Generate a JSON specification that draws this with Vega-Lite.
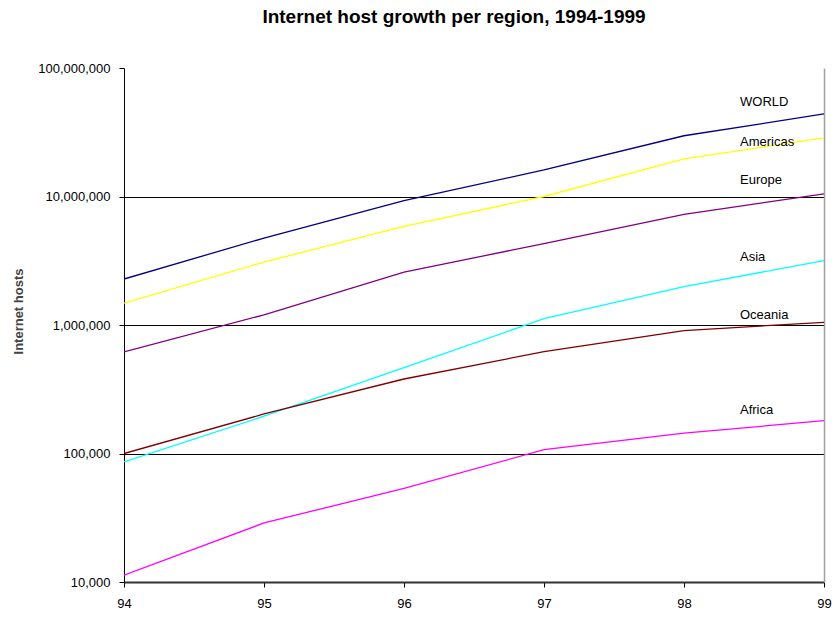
{
  "$schema": "https://vega.github.io/schema/vega-lite/v6.json",
  "width": 700,
  "height": 514,
  "autosize": {"type": "none"},
  "padding": {"left": 124, "top": 68, "right": 11, "bottom": 35},
  "background": "white",
  "config": {
    "view": {"stroke": null},
    "font": "Liberation Sans"
  },
  "title": {
    "text": "Internet host growth per region, 1994-1999",
    "font": "Liberation Sans",
    "fontSize": 19,
    "fontWeight": "bold",
    "color": "#000000",
    "anchor": "middle",
    "dx": -20,
    "offset": 35
  },
  "datasets": {
    "hosts": [
      {"region": "WORLD", "year": 94, "hosts": 2280000},
      {"region": "WORLD", "year": 95, "hosts": 4750000},
      {"region": "WORLD", "year": 96, "hosts": 9300000},
      {"region": "WORLD", "year": 97, "hosts": 16100000},
      {"region": "WORLD", "year": 98, "hosts": 29700000},
      {"region": "WORLD", "year": 99, "hosts": 43900000},
      {"region": "Americas", "year": 94, "hosts": 1480000},
      {"region": "Americas", "year": 95, "hosts": 3090000},
      {"region": "Americas", "year": 96, "hosts": 5850000},
      {"region": "Americas", "year": 97, "hosts": 10000000},
      {"region": "Americas", "year": 98, "hosts": 19600000},
      {"region": "Americas", "year": 99, "hosts": 28600000},
      {"region": "Europe", "year": 94, "hosts": 617000},
      {"region": "Europe", "year": 95, "hosts": 1200000},
      {"region": "Europe", "year": 96, "hosts": 2580000},
      {"region": "Europe", "year": 97, "hosts": 4300000},
      {"region": "Europe", "year": 98, "hosts": 7250000},
      {"region": "Europe", "year": 99, "hosts": 10500000},
      {"region": "Asia", "year": 94, "hosts": 86000},
      {"region": "Asia", "year": 95, "hosts": 195000},
      {"region": "Asia", "year": 96, "hosts": 465000},
      {"region": "Asia", "year": 97, "hosts": 1120000},
      {"region": "Asia", "year": 98, "hosts": 1990000},
      {"region": "Asia", "year": 99, "hosts": 3170000},
      {"region": "Oceania", "year": 94, "hosts": 100000},
      {"region": "Oceania", "year": 95, "hosts": 203000},
      {"region": "Oceania", "year": 96, "hosts": 380000},
      {"region": "Oceania", "year": 97, "hosts": 620000},
      {"region": "Oceania", "year": 98, "hosts": 905000},
      {"region": "Oceania", "year": 99, "hosts": 1050000},
      {"region": "Africa", "year": 94, "hosts": 11300},
      {"region": "Africa", "year": 95, "hosts": 28800},
      {"region": "Africa", "year": 96, "hosts": 53500},
      {"region": "Africa", "year": 97, "hosts": 107000},
      {"region": "Africa", "year": 98, "hosts": 144000},
      {"region": "Africa", "year": 99, "hosts": 180000}
    ],
    "labels": [
      {"region": "WORLD", "year": 98.4, "hosts": 54000000},
      {"region": "Americas", "year": 98.4, "hosts": 26500000},
      {"region": "Europe", "year": 98.4, "hosts": 13400000},
      {"region": "Asia", "year": 98.4, "hosts": 3380000},
      {"region": "Oceania", "year": 98.4, "hosts": 1200000},
      {"region": "Africa", "year": 98.4, "hosts": 218000}
    ]
  },
  "resolve": {"axis": {"y": "independent"}},
  "layer": [
    {
      "data": {"name": "hosts"},
      "mark": {"type": "line", "strokeWidth": 1.3, "clip": true},
      "encoding": {
        "x": {
          "field": "year",
          "type": "quantitative",
          "scale": {"domain": [94, 99], "nice": false, "zero": false},
          "axis": {
            "title": null,
            "values": [94, 95, 96, 97, 98, 99],
            "format": "d",
            "grid": false,
            "labelFlush": false,
            "labelOverlap": false,
            "domainColor": "#333333",
            "domainWidth": 2,
            "tickColor": "#000000",
            "tickSize": 5,
            "labelPadding": 10,
            "labelFont": "Liberation Sans",
            "labelFontSize": 13,
            "labelColor": "#000000"
          }
        },
        "y": {
          "field": "hosts",
          "type": "quantitative",
          "scale": {"type": "log", "domain": [10000, 100000000], "nice": false},
          "axis": {
            "title": "Internet hosts",
            "titleFont": "Liberation Sans",
            "titleFontSize": 13,
            "titleFontWeight": "bold",
            "titleColor": "#444444",
            "titleX": -106,
            "titleY": 243,
            "titleAngle": -90,
            "titleAlign": "center",
            "titleBaseline": "middle",
            "values": [10000, 100000, 1000000, 10000000, 100000000],
            "format": ",d",
            "grid": true,
            "gridColor": {"condition": {"test": "datum.value >= 100000000 || datum.value <= 10000", "value": "transparent"}, "value": "#000000"},
            "gridWidth": 1,
            "labelFlush": false,
            "labelOverlap": false,
            "domainColor": "#000000",
            "tickColor": "#000000",
            "tickSize": 5,
            "labelPadding": 9,
            "labelFont": "Liberation Sans",
            "labelFontSize": 13,
            "labelColor": "#000000"
          }
        },
        "color": {
          "field": "region",
          "type": "nominal",
          "scale": {
            "domain": ["WORLD", "Americas", "Europe", "Asia", "Oceania", "Africa"],
            "range": ["#000080", "#FFFF00", "#800080", "#00FFFF", "#800000", "#FF00FF"]
          },
          "legend": null
        }
      }
    },
    {
      "data": {"name": "labels"},
      "mark": {"type": "text", "align": "left", "baseline": "middle", "font": "Liberation Sans", "fontSize": 13, "color": "#000000"},
      "encoding": {
        "x": {"field": "year", "type": "quantitative"},
        "y": {
          "field": "hosts",
          "type": "quantitative",
          "axis": {
            "orient": "right",
            "title": null,
            "labels": false,
            "ticks": false,
            "grid": false,
            "domainColor": "#A0A0A0",
            "domainWidth": 1.5
          }
        },
        "text": {"field": "region"}
      }
    }
  ]
}
